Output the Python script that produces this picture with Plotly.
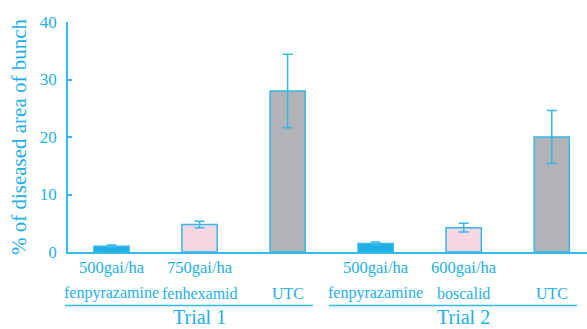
import plotly.graph_objects as go

# Disease severity on grape bunches, two field trials
doses = ["500gai/ha", "750gai/ha", "", "500gai/ha", "600gai/ha", ""]
products = ["fenpyrazamine", "fenhexamid", "UTC", "fenpyrazamine", "boscalid", "UTC"]
trials = ["Trial 1", "Trial 2"]
values = [1.0, 4.8, 28.0, 1.5, 4.2, 20.0]
err_plus = [0.2, 0.55, 6.4, 0.25, 0.8, 4.6]
err_minus = [0.2, 0.6, 6.4, 0.25, 0.7, 4.6]
y_ticks = [0, 10, 20, 30, 40]

BLUE = "#1DAFE6"
LINE = "#33B8EC"
fills = [BLUE, "#F9D6E4", "#B2B3B7", BLUE, "#F9D6E4", "#B2B3B7"]
FONT = "'Liberation Serif', 'Times New Roman', 'DejaVu Serif', serif"

W, H = 587, 329
ML, MR, MT, MB = 68, 0, 22, 77
plot_h = H - MT - MB
plot_w = W - ML - MR


def py(px):
    """pixel row -> paper y"""
    return (H - MB - px) / plot_h


def pxx(px):
    """pixel column -> paper x"""
    return (px - ML) / plot_w


xs = list(range(len(values)))

fig = go.Figure()
fig.add_trace(go.Bar(
    x=xs, y=values, width=0.4,
    marker=dict(color=fills, line=dict(color=LINE, width=1.5)),
    error_y=dict(type="data", symmetric=False, array=err_plus, arrayminus=err_minus,
                 color=LINE, thickness=1.5, width=5),
    showlegend=False,
))

annotations = []
for i in xs:
    if doses[i]:
        annotations.append(dict(x=i, y=py(267), xref="x", yref="paper", text=doses[i],
                                showarrow=False, yanchor="middle",
                                font=dict(family=FONT, size=16.5, color=BLUE)))
    annotations.append(dict(x=i, y=py(293), xref="x", yref="paper", text=products[i],
                            showarrow=False, yanchor="middle",
                            font=dict(family=FONT, size=16, color=BLUE)))
for k, t in enumerate(trials):
    annotations.append(dict(x=1 + 3 * k, y=py(317), xref="x", yref="paper", text=t,
                            showarrow=False, yanchor="middle", borderpad=0,
                            font=dict(family=FONT, size=20, color=BLUE)))

shapes = [
    dict(type="line", xref="paper", yref="paper", x0=pxx(65), x1=pxx(313),
         y0=py(305.5), y1=py(305.5), line=dict(color=LINE, width=1.5)),
    dict(type="line", xref="paper", yref="paper", x0=pxx(329), x1=pxx(577),
         y0=py(305.5), y1=py(305.5), line=dict(color=LINE, width=1.5)),
]

fig.update_layout(
    width=W, height=H,
    margin=dict(l=ML, r=MR, t=MT, b=MB),
    paper_bgcolor="white", plot_bgcolor="white",
    annotations=annotations, shapes=shapes,
    font=dict(family=FONT, color=BLUE),
    xaxis=dict(range=[-0.494, 5.40], showticklabels=False, ticks="",
               showgrid=False, zeroline=False, showline=True,
               linecolor=LINE, linewidth=1.5),
    yaxis=dict(range=[0, 40], tickvals=y_ticks, ticks="inside", ticklen=4,
               tickcolor=LINE, tickwidth=1.5, showgrid=False, zeroline=False,
               showline=True, linecolor=LINE, linewidth=1.5,
               tickfont=dict(family=FONT, size=17, color=BLUE),
               ticklabelstandoff=6,
               title=dict(text="% of diseased area of bunch", standoff=7,
                          font=dict(family=FONT, size=21, color=BLUE))),
)

fig.write_html("out.html")
